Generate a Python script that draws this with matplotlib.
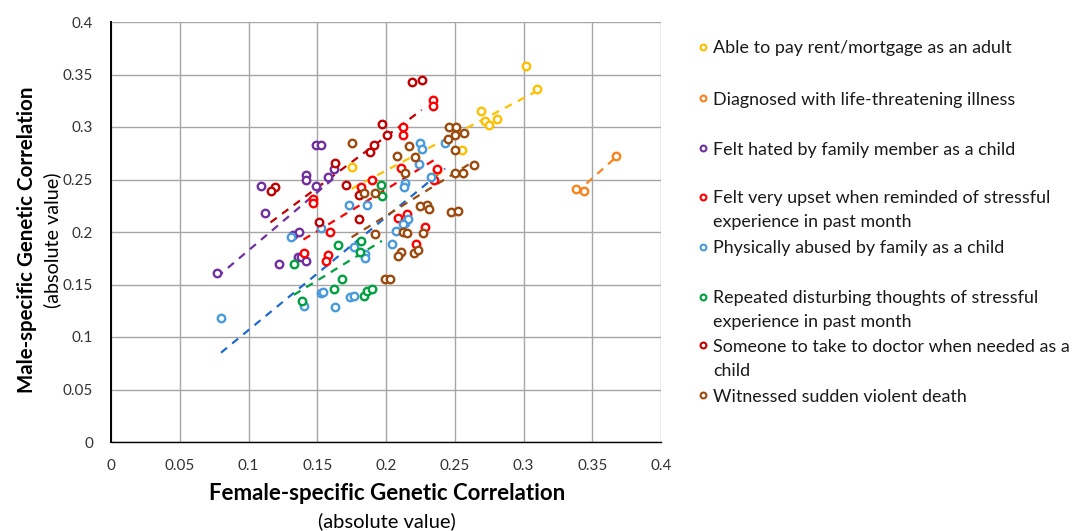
import numpy as np
import matplotlib
matplotlib.use("Agg")
import matplotlib.pyplot as plt
from matplotlib.lines import Line2D

plt.rcParams['font.family'] = ['Lato', 'DejaVu Sans']

# ---------------- data ----------------
labels = [
    "Able to pay rent/mortgage as an adult",
    "Diagnosed with life-threatening illness",
    "Felt hated by family member as a child",
    "Felt very upset when reminded of stressful\nexperience in past month",
    "Physically abused by family as a child",
    "Repeated disturbing thoughts of stressful\nexperience in past month",
    "Someone to take to doctor when needed as a\nchild",
    "Witnessed sudden violent death",
]

rent_x = [0.302, 0.310, 0.269, 0.272, 0.275, 0.281, 0.255, 0.175, 0.237]
rent_y = [0.358, 0.336, 0.315, 0.306, 0.302, 0.308, 0.278, 0.262, 0.259]

illness_x = [0.338, 0.344, 0.367]
illness_y = [0.241, 0.239, 0.272]

hated_x = [0.077, 0.109, 0.112, 0.122, 0.132, 0.137, 0.136, 0.138, 0.142,
           0.142, 0.142, 0.149, 0.153, 0.149, 0.158, 0.162]
hated_y = [0.161, 0.244, 0.218, 0.170, 0.197, 0.200, 0.176, 0.176, 0.172,
           0.254, 0.250, 0.283, 0.283, 0.244, 0.252, 0.260]

upset_x = [0.234, 0.234, 0.212, 0.212, 0.211, 0.237, 0.235, 0.190, 0.182, 0.147,
           0.147, 0.159, 0.140, 0.158, 0.156, 0.209, 0.215, 0.228, 0.222]
upset_y = [0.326, 0.320, 0.300, 0.292, 0.261, 0.260, 0.250, 0.250, 0.243, 0.231,
           0.228, 0.200, 0.180, 0.178, 0.172, 0.213, 0.217, 0.205, 0.189]

abused_x = [0.080, 0.140, 0.153, 0.154, 0.163, 0.174, 0.177, 0.131, 0.153, 0.173,
            0.186, 0.177, 0.185, 0.185, 0.207, 0.204, 0.214, 0.216, 0.212, 0.225,
            0.226, 0.224, 0.214, 0.213, 0.233, 0.243]
abused_y = [0.118, 0.130, 0.142, 0.143, 0.129, 0.138, 0.139, 0.195, 0.204, 0.226,
            0.226, 0.186, 0.179, 0.175, 0.201, 0.189, 0.209, 0.212, 0.208, 0.285,
            0.279, 0.265, 0.247, 0.243, 0.252, 0.285]

thoughts_x = [0.139, 0.133, 0.165, 0.168, 0.162, 0.182, 0.181, 0.184, 0.186, 0.190,
              0.196, 0.197]
thoughts_y = [0.134, 0.170, 0.188, 0.155, 0.146, 0.191, 0.181, 0.139, 0.144, 0.146,
              0.245, 0.234]

doctor_x = [0.219, 0.226, 0.197, 0.201, 0.191, 0.188, 0.163, 0.171, 0.119, 0.116,
            0.180, 0.151, 0.180]
doctor_y = [0.343, 0.345, 0.303, 0.292, 0.283, 0.276, 0.266, 0.245, 0.243, 0.239,
            0.235, 0.210, 0.212]

death_x = [0.175, 0.208, 0.217, 0.221, 0.214, 0.184, 0.192, 0.246, 0.251, 0.250,
           0.257, 0.245, 0.250, 0.250, 0.256, 0.264, 0.247, 0.252, 0.225, 0.230,
           0.231, 0.212, 0.215, 0.227, 0.192, 0.211, 0.209, 0.220, 0.223, 0.199,
           0.203]
death_y = [0.285, 0.272, 0.282, 0.271, 0.256, 0.237, 0.237, 0.300, 0.300, 0.292,
           0.294, 0.289, 0.278, 0.256, 0.256, 0.264, 0.219, 0.220, 0.225, 0.226,
           0.222, 0.200, 0.199, 0.199, 0.198, 0.181, 0.177, 0.180, 0.183, 0.155,
           0.155]

series_x = [rent_x, illness_x, hated_x, upset_x, abused_x, thoughts_x, doctor_x, death_x]
series_y = [rent_y, illness_y, hated_y, upset_y, abused_y, thoughts_y, doctor_y, death_y]

marker_colors = ["#FFC000", "#F7841F", "#7030A0", "#FF0000",
                 "#4A9BDC", "#00A040", "#C00000", "#9C4A0E"]
line_colors = ["#FFC000", "#F7841F", "#7030A0", "#FF0000",
               "#1F6ACF", "#00A040", "#C00000", "#9C4A0E"]

xticks = [0, 0.05, 0.1, 0.15, 0.2, 0.25, 0.3, 0.35, 0.4]
yticks = [0, 0.05, 0.1, 0.15, 0.2, 0.25, 0.3, 0.35, 0.4]
xtick_labels = ["0", "0.05", "0.1", "0.15", "0.2", "0.25", "0.3", "0.35", "0.4"]
ytick_labels = ["0", "0.05", "0.1", "0.15", "0.2", "0.25", "0.3", "0.35", "0.4"]

# ---------------- figure ----------------
W, H = 1075, 531
fig = plt.figure(figsize=(W / 100, H / 100), dpi=100)
ax = fig.add_axes([111 / W, 1 - 442 / H, 550 / W, 420 / H])

ax.set_xlim(0, 0.4)
ax.set_ylim(0, 0.4)
ax.set_xticks(xticks)
ax.set_xticklabels(xtick_labels)
ax.set_yticks(yticks)
ax.set_yticklabels(ytick_labels)
ax.tick_params(length=0, labelsize=11, pad=12, colors="#333333")
ax.tick_params(axis='y', pad=13)
ax.grid(True, color="#a6a6a6", linewidth=1.0, zorder=0)
ax.set_axisbelow(True)
for s in ["top", "right"]:
    ax.spines[s].set_visible(False)
ax.spines["left"].set_color("#000000")
ax.spines["left"].set_linewidth(1.4)
ax.spines["bottom"].set_color("#000000")
ax.spines["bottom"].set_linewidth(1.0)

for xs, ys, mc, lc in zip(series_x, series_y, marker_colors, line_colors):
    xs = np.asarray(xs)
    ys = np.asarray(ys)
    k, b = np.polyfit(xs, ys, 1)
    xl = np.array([xs.min(), xs.max()])
    ax.plot(xl, k * xl + b, linestyle=(0, (3.5, 3)), color=lc, linewidth=1.6, zorder=2)
    ax.plot(xs, ys, linestyle="none", marker="o", markersize=5.4,
            markerfacecolor="white", markeredgecolor=mc, markeredgewidth=1.7, zorder=3)

# axis titles
fig.text(387 / W, 1 - 494 / H, "Female-specific Genetic Correlation",
         ha="center", va="center", fontsize=16, fontweight="bold", color="#000000")
fig.text(387 / W, 1 - 521 / H, "(absolute value)",
         ha="center", va="center", fontsize=14.5, color="#000000")
fig.text(27 / W, 1 - 240 / H, "Male-specific Genetic Correlation",
         ha="center", va="center", rotation=90, fontsize=14.8, fontweight="bold", color="#000000")
fig.text(52 / W, 1 - 240 / H, "(absolute value)",
         ha="center", va="center", rotation=90, fontsize=14.2, color="#000000")

# legend (manual, Excel-like spacing)
legend_y = [47, 98, 148, 197, 247, 297, 345, 395]
for lab, mc, yy in zip(labels, marker_colors, legend_y):
    fig.add_artist(Line2D([703 / W], [1 - yy / H], transform=fig.transFigure,
                          marker="o", markersize=4.2, markerfacecolor="white",
                          markeredgecolor=mc, markeredgewidth=1.5, linestyle="none"))
    for i, line in enumerate(lab.split("\n")):
        fig.text(713 / W, 1 - (yy + 24 * i) / H, line, ha="left", va="center_baseline",
                 fontsize=12.9, color="#1a1a1a")

fig.savefig("out.png", dpi=100)
